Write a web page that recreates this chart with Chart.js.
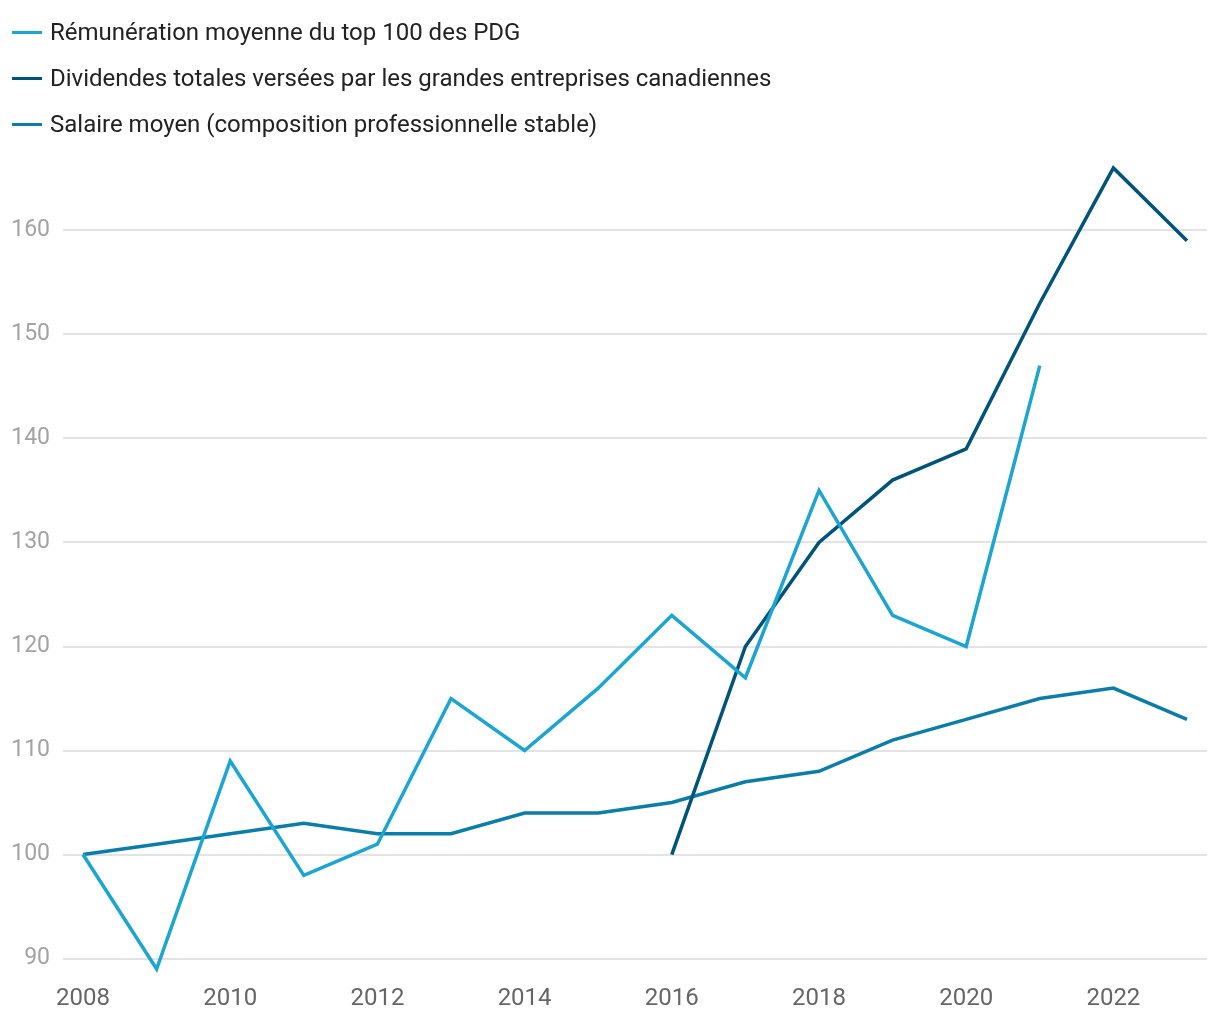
<!DOCTYPE html>
<html><head><meta charset="utf-8">
<script src="https://cdn.jsdelivr.net/npm/chart.js@4"></script>
<style>
html,body{margin:0;padding:0;background:#fff;}
body{width:1220px;height:1020px;position:relative;overflow:hidden;font-family:Roboto,sans-serif;}
#legend{position:absolute;left:12px;top:9px;z-index:2;}
.item{display:flex;align-items:center;height:46px;font-size:24px;color:#222;}
.item .sw{width:30px;height:3px;margin-right:8px;}
#wrap{position:absolute;left:0;top:0;width:1220px;height:1020px;}
</style></head><body>
<div id="legend"></div>
<div id="wrap"><canvas id="c" width="1220" height="1020"></canvas></div>
<script>
const years = [2008,2009,2010,2011,2012,2013,2014,2015,2016,2017,2018,2019,2020,2021,2022,2023];
const ceoPay = [100,89,109,98,101,115,110,116,123,117,135,123,120,147,null,null];
const dividends = [null,null,null,null,null,null,null,null,100,120,130,136,139,153,166,159];
const wages = [100,101,102,103,102,102,104,104,105,107,108,111,113,115,116,113];
const seriesNames = ["Rémunération moyenne du top 100 des PDG","Dividendes totales versées par les grandes entreprises canadiennes","Salaire moyen (composition professionnelle stable)"];
const colors = ["#1ba5d2","#00547a","#0a7ea8"];
const xTicks = [2008,2010,2012,2014,2016,2018,2020,2022];
const yTicks = [90,100,110,120,130,140,150,160];

const lg = document.getElementById('legend');
seriesNames.forEach((n,i)=>{
  const d=document.createElement('div');d.className='item';
  d.innerHTML='<span class="sw" style="background:'+colors[i]+'"></span><span>'+n+'</span>';
  lg.appendChild(d);
});

const toPts = arr => years.map((y,i)=>({x:y,y:arr[i]}));
new Chart(document.getElementById('c'),{
  type:'line',
  data:{datasets:[ceoPay,dividends,wages].map((a,i)=>({
    label:seriesNames[i],data:toPts(a),borderColor:colors[i],backgroundColor:colors[i],
    borderWidth:3.5,pointRadius:0,tension:0,spanGaps:false,clip:false,borderJoinStyle:'miter'
  }))},
  options:{
    responsive:false,animation:false,
    layout:{padding:{top:168,right:13,left:0,bottom:0}},
    plugins:{legend:{display:false},tooltip:{enabled:false}},
    scales:{
      x:{type:'linear',min:2007.728,max:2023.272,
        afterBuildTicks:s=>{s.ticks=xTicks.map(v=>({value:v}));},
        afterFit:s=>{s.height=51;},
        grid:{display:false},border:{display:false},
        ticks:{callback:v=>String(v),color:'#666',font:{family:'Roboto',size:24},padding:8,maxRotation:0,autoSkip:false}},
      y:{type:'linear',min:89,max:166,
        afterBuildTicks:s=>{s.ticks=yTicks.map(v=>({value:v}));},
        afterFit:s=>{s.width=63;},
        grid:{color:'#e3e3e3',lineWidth:2,drawTicks:false},border:{display:false},
        ticks:{color:'#a3a3a3',font:{family:'Roboto',size:23},padding:13}}
    }
  }
});
</script>
</body></html>
